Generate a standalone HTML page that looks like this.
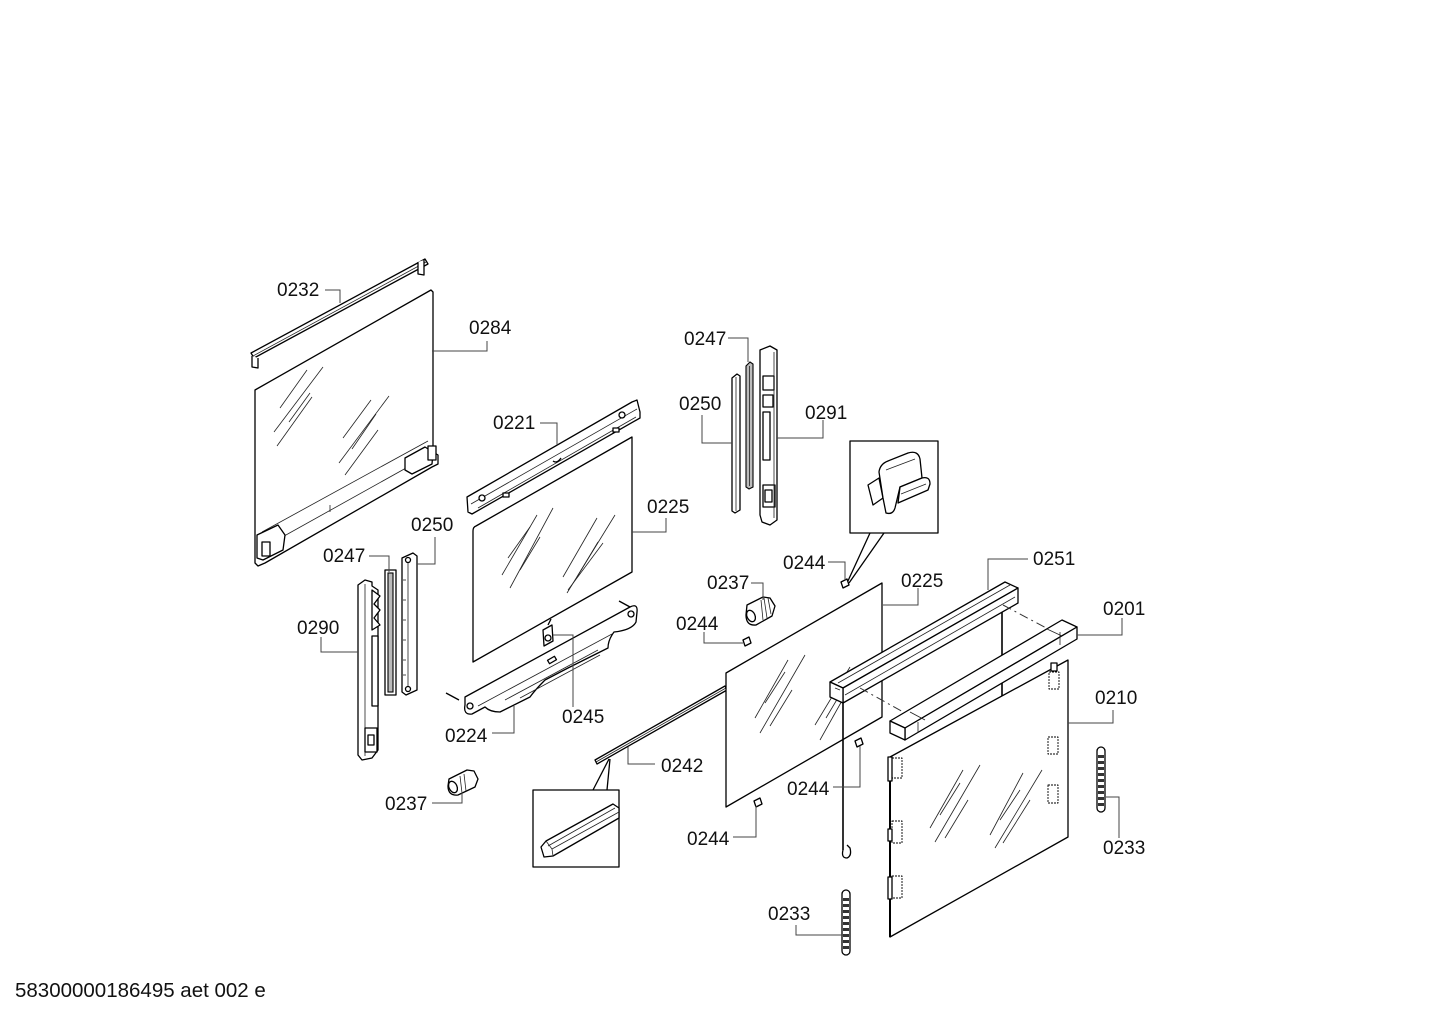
<!DOCTYPE html>
<html><head><meta charset="utf-8"><style>
html,body{margin:0;padding:0;background:#fff;}
svg{display:block;}
.o{fill:#fff;stroke:#000;stroke-width:1.3;stroke-linejoin:round}
.d{fill:#bbb;stroke:#000;stroke-width:1.1}
.l{fill:none;stroke:#444;stroke-width:1}
.t{fill:none;stroke:#222;stroke-width:0.8}
.k{fill:none;stroke:#000;stroke-width:1.3}
text{font-family:"Liberation Sans",Arial,sans-serif;font-size:19px;fill:#111}
</style></head><body>
<svg width="1442" height="1019" viewBox="0 0 1442 1019" xmlns="http://www.w3.org/2000/svg">

<!-- 0232 rod -->
<polygon class="o" points="251,353 425,259 428,264 254,358"/>
<line class="t" x1="253" y1="356" x2="426" y2="262"/>
<path class="o" d="M252,356 L252,367 L258,368 L258,358"/>
<path class="o" d="M418,262 L418,274 L424,275 L424,260"/>

<!-- 0284 panel -->
<polygon class="o" points="255,390 431,290 433,292 433,452 438,455 438,464 432,467 265,563 258,566 255,563"/>
<line class="t" x1="262" y1="532" x2="428" y2="441"/>
<line class="t" x1="268" y1="545" x2="424" y2="458"/>
<line class="t" x1="330" y1="505" x2="330" y2="512"/>
<path class="o" d="M257,535 L278,525 L285,535 L283,550 L263,560 L257,558 Z"/>
<rect class="o" x="262" y="542" width="8" height="14"/>
<path class="o" d="M405,458 L425,447 L433,452 L432,464 L412,474 L405,470 Z"/>
<rect class="o" x="428" y="446" width="8" height="14"/>
<g class="t">
<line x1="274" y1="432" x2="323" y2="367"/><line x1="280" y1="408" x2="307" y2="370"/>
<line x1="277" y1="446" x2="312" y2="397"/><line x1="289" y1="422" x2="310" y2="393"/>
<line x1="339" y1="463" x2="389" y2="396"/><line x1="343" y1="438" x2="371" y2="400"/>
<line x1="345" y1="475" x2="378" y2="430"/><line x1="352" y1="449" x2="376" y2="414"/>
</g>

<!-- 0221 rail -->
<polygon class="o" points="467,497 632,402 637,400 640,412 640,418 472,514 468,512"/>
<line class="t" x1="471" y1="504" x2="637" y2="409"/>
<line class="t" x1="478" y1="508" x2="636" y2="417"/>
<circle class="o" cx="622" cy="415" r="3"/><circle class="o" cx="482" cy="498" r="3"/>
<rect class="o" x="613" y="428" width="6" height="4"/>
<rect class="o" x="503" y="493" width="6" height="4"/>
<path class="o" d="M553,461 q4,3 8,-3"/>

<!-- 0225 mid panel -->
<path class="o" d="M476,526 L632,437 L632,572 L473,662 L473,531 Q473,527 476,526 Z"/>
<g class="t">
<line x1="502" y1="575" x2="537" y2="515"/><line x1="508" y1="558" x2="530" y2="527"/>
<line x1="510" y1="588" x2="553" y2="508"/><line x1="520" y1="570" x2="540" y2="537"/>
<line x1="563" y1="577" x2="597" y2="518"/><line x1="567" y1="593" x2="615" y2="515"/>
<line x1="577" y1="577" x2="598" y2="542"/><line x1="568" y1="590" x2="603" y2="543"/>
</g>

<!-- 0224 bracket -->
<path class="o" d="M465,697 L630,607 Q638,603 637,612 L636,622 Q632,630 614,632 Q608,640 608,648 L568,668 L545,680 Q535,690 530,697 L500,712 Q490,712 485,707 L472,714 Q463,715 465,705 Z"/>
<line class="t" x1="478" y1="706" x2="612" y2="634"/>
<line class="t" x1="505" y1="700" x2="598" y2="650"/>
<line class="t" x1="520" y1="698" x2="600" y2="655"/>
<circle class="o" cx="470" cy="706" r="3"/><circle class="o" cx="631" cy="614" r="3"/>
<line class="k" x1="446" y1="693" x2="459" y2="700"/>
<line class="k" x1="619" y1="601" x2="630" y2="607"/>
<rect class="o" x="548" y="658" width="8" height="4" transform="rotate(-30 552 660)"/>

<!-- 0245 clip -->
<path class="o" d="M543,630 L552,625 L553,641 L544,646 Z"/>
<circle class="o" cx="548" cy="638" r="3"/>
<line class="k" x1="548" y1="625" x2="551" y2="619"/>

<!-- right column strips -->
<path class="o" d="M732,378 L737,374 L740,376 L740,510 L735,513 L732,511 Z"/>
<line class="t" x1="736" y1="377" x2="736" y2="511"/>
<path class="d" d="M746,366 L750,362 L753,364 L753,487 L749,489 L746,487 Z"/>
<line class="t" x1="749.5" y1="366" x2="749.5" y2="486"/>
<polygon class="o" points="760,350 770,346 777,350 777,520 770,525 762,522 760,515"/>
<rect class="o" x="763" y="376" width="11" height="14"/>
<rect class="o" x="763" y="395" width="10" height="12"/>
<rect class="o" x="763" y="412" width="7" height="48"/>
<rect class="o" x="763" y="485" width="12" height="22"/>
<rect class="o" x="765" y="490" width="7" height="12"/>
<line class="t" x1="774" y1="352" x2="774" y2="518"/>

<!-- inset box top -->
<rect class="o" x="850" y="441" width="88" height="92"/>
<path class="o" d="M868,485 L879,478 L883,498 L873,505 Z"/>
<path class="o" d="M879,472 Q880,464 888,461 L908,453 Q918,450 920,459 L922,478 L900,487 L895,508 Q893,515 886,513 L883,498 Z"/>
<path class="o" d="M900,487 L922,478 Q930,476 930,484 L928,490 L898,503 Z"/>
<line class="t" x1="886" y1="470" x2="915" y2="459"/>
<line class="t" x1="901" y1="494" x2="926" y2="484"/>
<line class="k" x1="870" y1="533" x2="847" y2="583"/>
<line class="k" x1="884" y1="533" x2="849" y2="583"/>
<path class="o" d="M841,582 L847,579 L849,585 L843,588 Z"/>

<!-- 0237 mid knob -->
<path class="o" d="M747,605 L763,597 L770,598 L775,606 L772,616 L756,625 Q746,626 746,615 Z"/>
<ellipse class="o" cx="751" cy="616" rx="4" ry="6" transform="rotate(-25 751 616)"/>
<path class="t" d="M764,598 L767,618 M768,598 L771,614 M761,600 L763,620"/>
<!-- 0244 mid-left clip -->
<path class="o" d="M743,640 L749,637 L751,643 L745,646 Z"/>

<!-- 0242 rod -->
<polygon class="o" points="595,760 725,686 727,690 597,764"/>
<line class="t" x1="596" y1="762" x2="726" y2="688"/>
<!-- inset box bottom -->
<rect class="o" x="533" y="790" width="86" height="77"/>
<line class="k" x1="593" y1="790" x2="609" y2="759"/>
<line class="k" x1="607" y1="790" x2="610" y2="759"/>
<path class="o" d="M541,847 L546,841 L613,804 L619,808 L619,818 L553,856 L544,857 Z"/>
<path class="t" d="M546,841 L552,849 L553,856 M552,849 L619,812 M548,846 L615,808"/>

<!-- 0225 right panel -->
<polygon class="o" points="726,673 882,583 882,717 726,807"/>
<g class="t">
<line x1="755" y1="718" x2="788" y2="660"/><line x1="760" y1="733" x2="805" y2="655"/>
<line x1="765" y1="703" x2="785" y2="672"/><line x1="770" y1="726" x2="792" y2="690"/>
<line x1="815" y1="725" x2="850" y2="667"/><line x1="820" y1="740" x2="848" y2="690"/>
<line x1="826" y1="718" x2="845" y2="686"/>
</g>
<path class="o" d="M855,741 L861,738 L863,744 L857,747 Z"/>
<path class="o" d="M754,801 L760,798 L762,804 L756,807 Z"/>

<!-- frame behind bar -->
<line x1="860" y1="687" x2="1002" y2="610" stroke="#000" stroke-width="2"/>
<line x1="1002" y1="605" x2="1002" y2="700" stroke="#000" stroke-width="1.6"/>
<line x1="843" y1="700" x2="843" y2="850" stroke="#000" stroke-width="1.6"/>
<path class="k" d="M843,850 q-2,8 4,8 q5,-2 3,-10 l-3,-3"/>

<!-- 0251 bar -->
<polygon class="o" points="830,682 1005,582 1018,588 843,688"/>
<polygon class="o" points="843,688 1018,588 1018,603 843,703"/>
<polygon class="o" points="830,682 843,688 843,703 830,697"/>
<line class="t" x1="838" y1="683" x2="1010" y2="585"/>
<line class="t" x1="845" y1="695" x2="1015" y2="597"/>
<line class="t" x1="835" y1="688" x2="840" y2="690"/>

<!-- dash-dot lines -->
<line x1="1003" y1="605" x2="1050" y2="630" stroke="#333" stroke-width="1" stroke-dasharray="9 4 2 4"/>
<line x1="860" y1="688" x2="905" y2="713" stroke="#333" stroke-width="1" stroke-dasharray="9 4 2 4"/>

<!-- 0210 door -->
<polygon class="o" points="890,757 1068,660 1068,837 890,937"/>
<line x1="890" y1="757" x2="890" y2="937" stroke="#000" stroke-width="2"/>
<g class="t">
<line x1="930" y1="828" x2="963" y2="770"/><line x1="935" y1="842" x2="980" y2="765"/>
<line x1="940" y1="815" x2="960" y2="783"/><line x1="945" y1="838" x2="968" y2="800"/>
<line x1="990" y1="835" x2="1023" y2="773"/><line x1="995" y1="848" x2="1042" y2="770"/>
<line x1="1000" y1="820" x2="1020" y2="790"/><line x1="1003" y1="843" x2="1030" y2="800"/>
</g>
<g class="o" style="stroke-dasharray:2 1;stroke-width:0.9">
<rect x="1049" y="672" width="10" height="17"/>
<rect x="1048" y="737" width="10" height="17"/>
<rect x="1048" y="785" width="10" height="18"/>
<rect x="892" y="758" width="10" height="20"/>
<rect x="892" y="821" width="10" height="22"/>
<rect x="892" y="876" width="10" height="22"/>
</g>
<rect class="o" x="1051" y="663" width="6" height="8"/>
<rect class="o" x="888" y="757" width="4" height="24"/>
<rect class="o" x="888" y="829" width="4" height="12"/>
<rect class="o" x="888" y="877" width="4" height="22"/>

<!-- 0201 handle -->
<polygon class="o" points="890,721 1062,620 1077,627 905,728"/>
<polygon class="o" points="905,728 1077,627 1077,639 905,740"/>
<polygon class="o" points="890,721 905,728 905,740 890,733"/>
<line class="t" x1="918" y1="722" x2="918" y2="733"/>
<line class="t" x1="1060" y1="632" x2="1060" y2="645"/>
<line class="t" x1="910" y1="712" x2="925" y2="720"/>
<line class="t" x1="1047" y1="629" x2="1062" y2="636"/>

<!-- 0233 strips -->
<rect class="o" x="1097" y="747" width="8" height="65" rx="4"/>
<g fill="#333">
<rect x="1098" y="755" width="6" height="3"/><rect x="1098" y="761" width="6" height="3"/>
<rect x="1098" y="767" width="6" height="3"/><rect x="1098" y="773" width="6" height="3"/>
<rect x="1098" y="779" width="6" height="3"/><rect x="1098" y="785" width="6" height="3"/>
<rect x="1098" y="791" width="6" height="3"/><rect x="1098" y="797" width="6" height="3"/>
<rect x="1098" y="803" width="6" height="3"/>
</g>
<rect class="o" x="842" y="890" width="8" height="65" rx="4"/>
<g fill="#333">
<rect x="843" y="898" width="6" height="3"/><rect x="843" y="904" width="6" height="3"/>
<rect x="843" y="910" width="6" height="3"/><rect x="843" y="916" width="6" height="3"/>
<rect x="843" y="922" width="6" height="3"/><rect x="843" y="928" width="6" height="3"/>
<rect x="843" y="934" width="6" height="3"/><rect x="843" y="940" width="6" height="3"/>
<rect x="843" y="946" width="6" height="3"/>
</g>

<!-- left strips -->
<polygon class="o" points="358,585 365,580 372,582 372,586 378,590 378,750 372,758 362,760 358,755"/>
<line class="t" x1="365" y1="584" x2="365" y2="756"/>
<path class="o" d="M372,590 L380,596 L374,604 L380,610 L374,618 L380,625 L372,630 Z"/>
<rect class="o" x="372" y="636" width="6" height="70"/>
<rect class="o" x="365" y="728" width="12" height="24"/>
<rect class="o" x="368" y="735" width="6" height="10"/>
<rect class="o" x="385" y="570" width="11" height="125"/>
<rect class="d" x="388" y="573" width="5" height="119"/>
<polygon class="o" points="402,558 413,553 417,556 417,690 406,695 402,692"/>
<line class="t" x1="408" y1="557" x2="408" y2="692"/>
<g class="t">
<line x1="403" y1="580" x2="406" y2="580"/><line x1="403" y1="600" x2="406" y2="600"/>
<line x1="403" y1="620" x2="406" y2="620"/><line x1="403" y1="640" x2="406" y2="640"/>
<line x1="403" y1="660" x2="406" y2="660"/><line x1="403" y1="675" x2="406" y2="675"/>
</g>
<circle class="o" cx="408" cy="560" r="2.5"/><circle class="o" cx="408" cy="689" r="2.5"/>

<!-- 0237 left knob -->
<path class="o" d="M449,779 L467,770 L474,771 L478,779 L475,787 L458,795 Q448,796 448,786 Z"/>
<ellipse class="o" cx="453" cy="787" rx="4" ry="6" transform="rotate(-25 453 787)"/>
<path class="t" d="M460,776 L462,793 M464,774 L466,791"/>

<!-- leaders -->
<g class="l">
<polyline points="325,290 340,290 340,303"/>
<polyline points="487,341 487,351 432,351"/>
<polyline points="540,423 557,423 557,445"/>
<polyline points="666,518 666,532 632,532"/>
<polyline points="553,635 573,635 573,707"/>
<polyline points="492,733 514,733 514,706"/>
<polyline points="728,338 748,338 748,362"/>
<polyline points="702,415 702,443 732,443"/>
<polyline points="823,420 823,438 777,438"/>
<polyline points="828,562 845,562 845,580"/>
<polyline points="751,583 763,583 763,600"/>
<polyline points="704,632 704,643 743,643"/>
<polyline points="655,764 628,764 628,747"/>
<polyline points="833,787 860,787 860,746"/>
<polyline points="733,837 756,837 756,806"/>
<polyline points="1028,559 988,559 988,590"/>
<polyline points="918,588 918,605 883,605"/>
<polyline points="1122,618 1122,635 1077,635"/>
<polyline points="1113,710 1113,723 1068,723"/>
<polyline points="1119,838 1119,797 1106,797"/>
<polyline points="796,925 796,935 843,935"/>
<polyline points="435,537 435,564 417,564"/>
<polyline points="369,556 389,556 389,572"/>
<polyline points="321,637 321,652 358,652"/>
<polyline points="432,803 462,803 462,792"/>
</g>

<!-- labels -->
<text x="277" y="296">0232</text>
<text x="469" y="334">0284</text>
<text x="493" y="429">0221</text>
<text x="684" y="345">0247</text>
<text x="679" y="410">0250</text>
<text x="805" y="419">0291</text>
<text x="647" y="513">0225</text>
<text x="411" y="531">0250</text>
<text x="323" y="562">0247</text>
<text x="297" y="634">0290</text>
<text x="783" y="569">0244</text>
<text x="707" y="589">0237</text>
<text x="901" y="587">0225</text>
<text x="1033" y="565">0251</text>
<text x="1103" y="615">0201</text>
<text x="676" y="630">0244</text>
<text x="562" y="723">0245</text>
<text x="445" y="742">0224</text>
<text x="1095" y="704">0210</text>
<text x="661" y="772">0242</text>
<text x="787" y="795">0244</text>
<text x="385" y="810">0237</text>
<text x="687" y="845">0244</text>
<text x="1103" y="854">0233</text>
<text x="768" y="920">0233</text>

<text x="15" y="997" style="font-size:20.5px">58300000186495 aet 002 e</text>
</svg>
</body></html>
